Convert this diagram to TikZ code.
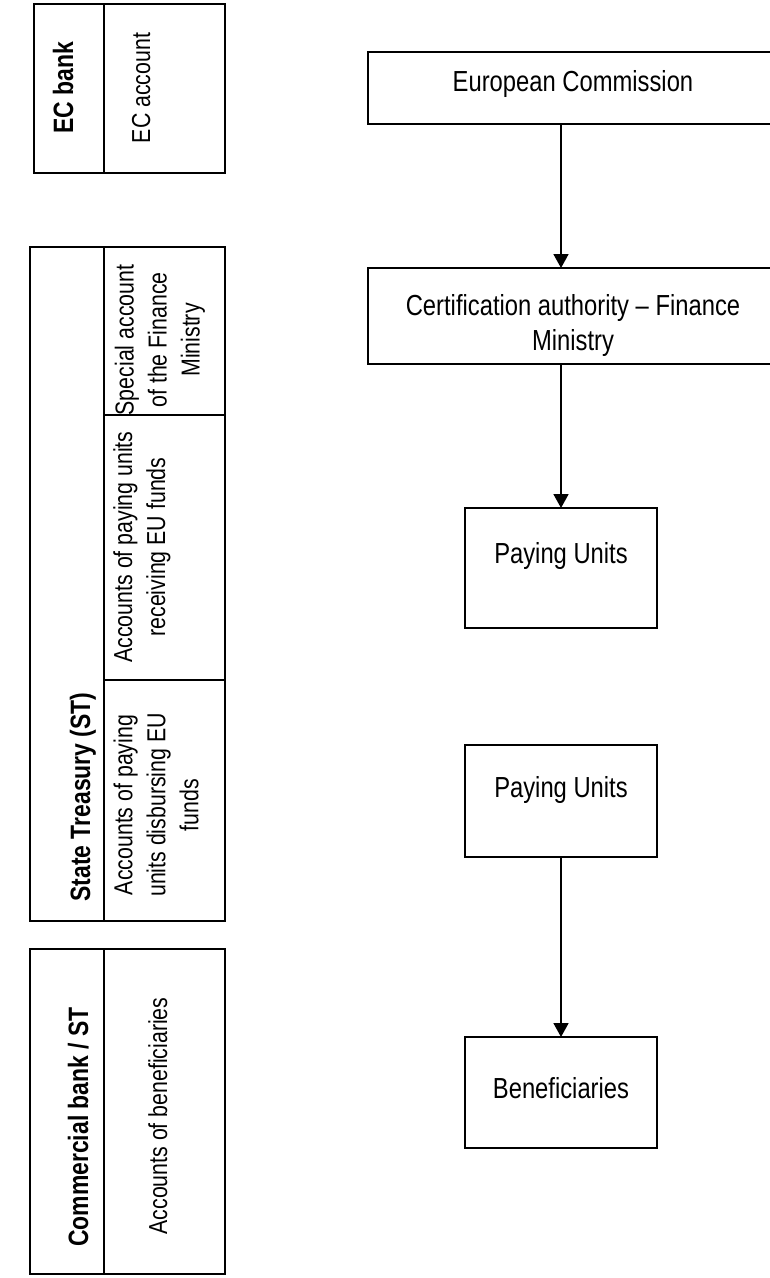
\documentclass[tikz,border=0pt]{standalone}
\usepackage{fontspec}
\setmainfont{Liberation Sans}[FakeStretch=0.82]
\usetikzlibrary{arrows.meta,positioning}

\begin{document}
\begin{tikzpicture}[x=1pt,y=-1pt,node distance=144pt,
  box/.style={draw,line width=1.8pt,outer sep=0pt,inner sep=0pt,align=center,font=\fontsize{29}{35}\selectfont,text height=21pt},
  wide/.style={box,minimum width=410pt},
  unit/.style={box,minimum width=192pt},
  head/.style={rotate=90,anchor=base,font=\fontsize{28}{33}\selectfont\bfseries},
  acc/.style={rotate=90,align=center,font=\fontsize{26}{33}\selectfont},
  tab/.style={line width=1.8pt},
  arr/.style={line width=1.8pt,-{Triangle[length=14pt,width=15pt]}}]
\useasboundingbox (0,0) rectangle (770,1278);
\draw[tab] (34,4) rectangle (225,173) (104,4) -- (104,173);
\draw[tab] (30,247) rectangle (225,921) (104,247) -- (104,921) (104,415) -- (225,415) (104,680) -- (225,680);
\draw[tab] (30,949) rectangle (225,1274) (104,949) -- (104,1274);
\node[head] (ecbank) at (73,88) {EC bank};
\node[acc,anchor=base] (ecacc) at (150,88) {EC account};
\node[head] (st) at (90,797) {State Treasury (ST)};
\node[acc] (special) at (160,340) {Special account\\of the Finance\\Ministry};
\node[acc] (receiving) at (142,547) {Accounts of paying units\\receiving EU funds};
\node[acc] (disbursing) at (156,805) {Accounts of paying\\units disbursing EU\\funds};
\node[head] (cb) at (88,1127) {Commercial bank / ST};
\node[acc,anchor=base] (benacc) at (167,1116) {Accounts of beneficiaries};

\node[wide,minimum height=72pt,text depth=15pt,anchor=north west] (ec) at (368,52) {European Commission};
\node[wide,minimum height=96pt,text height=74pt,text depth=6pt,below=of ec] (cert) {Certification authority -- Finance\\Ministry};
\node[unit,minimum height=120pt,text depth=31pt,below=of cert,xshift=-12pt] (pu1) {Paying Units};
\node[unit,minimum height=112pt,text depth=29pt,below=117pt of pu1] (pu2) {Paying Units};
\node[unit,minimum height=111pt,text depth=10pt,below=180pt of pu2] (ben) {Beneficiaries};
\draw[arr] (ec.south -| pu1) -- (cert.north -| pu1);
\draw[arr] (cert.south -| pu1) -- (pu1);
\draw[arr] (pu2) -- (ben);
\end{tikzpicture}
\end{document}
